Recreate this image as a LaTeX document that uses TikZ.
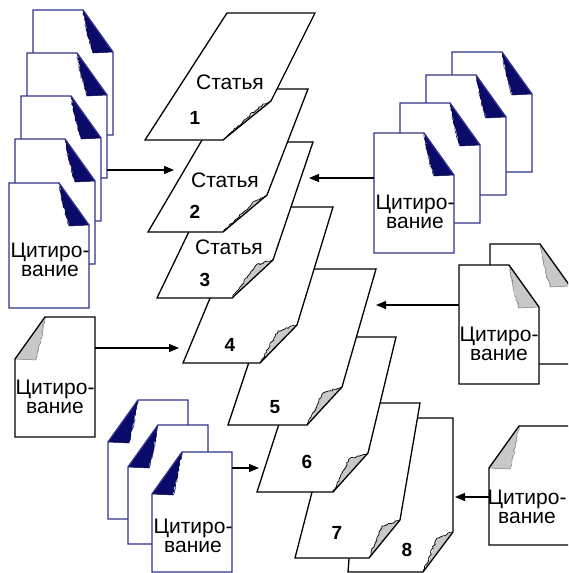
\documentclass[tikz,border=0pt]{standalone}
\usepackage{fontspec}
\setmainfont{Liberation Sans}
\usetikzlibrary{arrows.meta,decorations.pathmorphing}
\definecolor{navy}{RGB}{10,10,105}
\definecolor{docline}{RGB}{50,50,140}
\definecolor{curlgray}{RGB}{200,200,200}
\pgfmathsetseed{7}
\tikzset{
  pageline/.style={draw=black,line width=1.3pt,line join=miter},
  jag/.style={decoration={random steps,segment length=2.2pt,amplitude=0.9pt}},
  link/.style={draw=black,line width=1.2pt,-{Triangle[length=10pt,width=8pt]}},
  lbl/.style={font=\fontsize{21}{19}\selectfont,align=center,inner sep=0pt},
  num/.style={font=\fontsize{19}{19}\selectfont\bfseries,inner sep=0pt},
  pics/docR/.style n args={3}{code={
    \fill[white] (0,0) -- (50,0) -- (80,42) -- (80,#1) -- (0,#1) -- cycle;
    \fill[#2] (50,0) decorate[jag]{-- (54,22) -- (60,43)} -- (80,42) -- cycle;
    \draw[#2!60!black,line width=0.5pt] (50,0) decorate[jag]{-- (54,22) -- (60,43)} -- (80,42);
    \draw[draw=#3,line width=1.3pt] (0,0) -- (50,0) -- (80,42) -- (80,#1) -- (0,#1) -- cycle;
  }},
  pics/docL/.style n args={3}{code={
    \fill[white] (0,42) -- (30,0) -- (80,0) -- (80,#1) -- (0,#1) -- cycle;
    \fill[#2] (30,0) decorate[jag]{-- (26,22) -- (21,43)} -- (0,42) -- cycle;
    \draw[#2!60!black,line width=0.5pt] (30,0) decorate[jag]{-- (26,22) -- (21,43)} -- (0,42);
    \draw[draw=#3,line width=1.3pt] (0,42) -- (30,0) -- (80,0) -- (80,#1) -- (0,#1) -- cycle;
  }},
}
% sheet: TL, TR, A (curl top), T (curl tip), B (curl bottom), BL
\newcommand\sheet[6]{%
  \fill[white] (#1) -- (#2) -- (#3) -- (#5) -- (#6) -- cycle;
  \fill[curlgray] (#3) decorate[jag]{-- (#4) -- (#5)} -- cycle;
  \draw[black,line width=0.7pt] (#3) decorate[jag]{-- (#4) -- (#5)};
  \draw[pageline] (#1) -- (#2) -- (#3) -- (#5) -- (#6) -- cycle;
}
\begin{document}
\begin{tikzpicture}[x=1pt,y=-1pt]
\useasboundingbox (0,0) rectangle (568,573);
\clip (0,0) rectangle (568,573);
\fill[white] (0,0) rectangle (568,573);

% ---- article sheets, bottom to top ----
\sheet{360,418}{453,418}{453,532}{437,538}{423,572}{348,572}
\sheet{335,403}{420,403}{400,520}{382,526}{369,558}{295,558}
\sheet{307,337}{396,337}{368,453}{349,459}{333,492}{257,492}
\sheet{280,269}{376,269}{342,387}{323,393}{307,425}{228,425}
\sheet{248,207}{333,207}{297,325}{278,331}{260,363}{183,363}
\sheet{232,142}{313,142}{273,260}{256,265}{232,298}{157,298}
\sheet{232,89}{308,89}{267,195}{255,201}{223,232}{148,232}
\sheet{227,13}{315,13}{271,101}{259,107}{223,140}{145,140}

\node[lbl] (s1) at (230,82) {Статья};
\node[num] (n1) at (195,118) {1};
\node[lbl] (s2) at (225,180) {Статья};
\node[num] (n2) at (195,212) {2};
\node[lbl] (s3) at (229,247) {Статья};
\node[num] (n3) at (205,280) {3};
\node[num] (n4) at (230,345) {4};
\node[num] (n5) at (275,407) {5};
\node[num] (n6) at (307,462) {6};
\node[num] (n7) at (337,533) {7};
\node[num] (n8) at (407,550) {8};

% ---- left blue stack ----
\pic at (33,10) {docR={125}{navy}{docline}};
\pic at (27,53) {docR={125}{navy}{docline}};
\pic at (21,96) {docR={125}{navy}{docline}};
\pic at (15,139) {docR={125}{navy}{docline}};
\pic at (9,183) {docR={125}{navy}{docline}};
\node[lbl] (c1) at (50,260) {Цитиро-\\вание};

% ---- right blue stack ----
\pic at (452,52) {docR={120}{navy}{docline}};
\pic at (426,75) {docR={120}{navy}{docline}};
\pic at (400,103) {docR={120}{navy}{docline}};
\pic at (374,133) {docR={120}{navy}{docline}};
\node[lbl] (c2) at (415,212) {Цитиро-\\вание};

% ---- left gray doc ----
\pic at (15,317) {docL={120}{curlgray}{black}};
\node[lbl] (c3) at (55,397) {Цитиро-\\вание};

% ---- right middle gray stack ----
\pic at (490,244) {docR={120}{curlgray}{black}};
\pic at (459,265) {docR={119}{curlgray}{black}};
\node[lbl] (c4) at (499,344) {Цитиро-\\вание};

% ---- bottom-left blue stack ----
\pic at (108,400) {docL={119}{navy}{docline}};
\pic at (128,425) {docL={119}{navy}{docline}};
\pic at (152,452) {docL={120}{navy}{docline}};
\node[lbl] (c5) at (193,536) {Цитиро-\\вание};

% ---- bottom-right gray doc ----
\pic at (489,426) {docL={119}{curlgray}{black}};
\node[lbl] (c6) at (527,507) {Цитиро-\\вание};

% ---- arrows ----
\coordinate (a1s) at (107,170); \coordinate (a1e) at (174,170);
\coordinate (a2s) at (374,178); \coordinate (a2e) at (309,178);
\coordinate (a3s) at (95,348);  \coordinate (a3e) at (179,348);
\coordinate (a4s) at (459,305); \coordinate (a4e) at (376,305);
\coordinate (a5s) at (232,468); \coordinate (a5e) at (259,468);
\coordinate (a6s) at (489,497); \coordinate (a6e) at (455,497);
\draw[link] (a1s) -- (a1e);
\draw[link] (a2s) -- (a2e);
\draw[link] (a3s) -- (a3e);
\draw[link] (a4s) -- (a4e);
\draw[link] (a5s) -- (a5e);
\draw[link] (a6s) -- (a6e);
\end{tikzpicture}
\end{document}
